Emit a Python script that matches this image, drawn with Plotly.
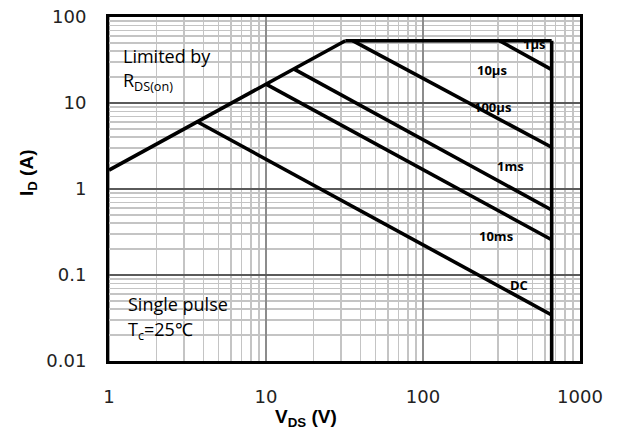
import numpy as np
import plotly.graph_objects as go

# ---- data ----
rds_v = [1, 32]
rds_i = [1.66, 53]
top_v = [32, 660]
top_i = [53, 53]
bv_v = [660, 660]
bv_i = [53, 0.01]
us10_v = [307, 660]
us10_i = [53, 24.4]
us100_v = [35.6, 660]
us100_i = [53, 3.06]
ms1_v = [15, 660]
ms1_i = [24.9, 0.57]
ms10_v = [10, 660]
ms10_i = [16.6, 0.257]
dc_v = [3.65, 660]
dc_i = [6.05, 0.0343]

label_text = ["1µs", "10µs", "100µs", "1ms", "10ms", "DC"]
label_v = [506, 277, 277, 361, 290, 406]
label_i = [48.7, 24.4, 8.87, 1.84, 0.286, 0.0756]

x_ticks = [1, 10, 100, 1000]
x_ticktext = ["1", "10", "100", "1000"]
y_ticks = [0.01, 0.1, 1, 10, 100]
y_ticktext = ["0.01", "0.1", "1", "10", "100"]

fig = go.Figure()
line_style = dict(color="black", width=3.6)
for xs, ys in [(rds_v, rds_i), (top_v, top_i), (bv_v, bv_i), (us10_v, us10_i),
               (us100_v, us100_i), (ms1_v, ms1_i), (ms10_v, ms10_i), (dc_v, dc_i)]:
    fig.add_trace(go.Scatter(x=xs, y=ys, mode="lines", line=line_style,
                             showlegend=False, hoverinfo="skip"))

# page geometry (body margin removed by post_script)
PX0, PY0 = 109, 16.5          # page position of plot area top-left
pw, ph = 471, 345
W, H = 618, 433
L, T = PX0, PY0
R, B = W - L - pw, H - T - ph

def px(x):
    return (x - PX0) / pw

def py(y):
    return 1 - (y - PY0) / ph

annotations = []
for t, v, i in zip(label_text, label_v, label_i):
    annotations.append(dict(x=np.log10(v), y=np.log10(i), xref="x", yref="y",
                            text="<b>%s</b>" % t, showarrow=False,
                            xanchor="center", yanchor="middle",
                            font=dict(family="Open Sans", size=13, color="black")))

txt_font = dict(family="Open Sans", size=18, color="black")
annotations += [
    dict(x=px(121), y=py(56), xref="paper", yref="paper", text="Limited by", showarrow=False,
         xanchor="left", yanchor="middle", font=txt_font),
    dict(x=px(121), y=py(81), xref="paper", yref="paper",
         text="R<sub>DS(on)</sub>", showarrow=False,
         xanchor="left", yanchor="middle", font=txt_font),
    dict(x=px(126), y=py(304), xref="paper", yref="paper", text="Single pulse", showarrow=False,
         xanchor="left", yanchor="middle", font=txt_font),
    dict(x=px(126), y=py(331), xref="paper", yref="paper",
         text="T<sub>c</sub>=25℃",
         showarrow=False, xanchor="left", yanchor="middle", font=txt_font),
    dict(x=px(306), y=py(419), xref="paper", yref="paper",
         text="<b>V<sub>DS</sub> (V)</b>", showarrow=False,
         xanchor="center", yanchor="middle",
         font=dict(family="Liberation Sans", size=19, color="black")),
    dict(x=px(28), y=py(173), xref="paper", yref="paper",
         text="<b>I<sub>D</sub> (A)</b>", showarrow=False, textangle=-90,
         xanchor="center", yanchor="middle",
         font=dict(family="Liberation Sans", size=19, color="black")),
]

shapes = [
    dict(type="rect", xref="paper", yref="paper",
         x0=px(127), x1=px(262), y0=py(343), y1=py(292),
         fillcolor="white", line=dict(width=0), layer="below"),
    dict(type="line", xref="x", yref="paper", x0=1, x1=1, y0=0, y1=1,
         line=dict(color="#444444", width=1), layer="below"),
]

fig.update_layout(
    width=W, height=H,
    margin=dict(l=L, r=R, t=T, b=B, autoexpand=False),
    paper_bgcolor="white", plot_bgcolor="white",
    annotations=annotations, shapes=shapes,
    xaxis=dict(type="log", range=[0, 3], tickvals=x_ticks, ticktext=x_ticktext,
               showgrid=True, gridcolor="#8c8c8c", gridwidth=1.5,
               minor=dict(dtick="D1", showgrid=True, gridcolor="#c4c4c4", gridwidth=1.5, ticks=""),
               showline=True, mirror=True, linecolor="black", linewidth=3,
               ticks="", ticklabelstandoff=17, zeroline=False, automargin=False,
               ticklabeloverflow="allow",
               tickfont=dict(family="DejaVu Sans", size=18, color="#222222")),
    yaxis=dict(type="log", range=[-2, 2], tickvals=y_ticks, ticktext=y_ticktext,
               showgrid=True, gridcolor="#5a5a5a", gridwidth=2,
               minor=dict(dtick="D1", showgrid=True, gridcolor="#c4c4c4", gridwidth=1.5, ticks=""),
               showline=True, mirror=True, linecolor="black", linewidth=3,
               ticks="", ticklabelstandoff=16, zeroline=False, automargin=False,
               ticklabeloverflow="allow",
               tickfont=dict(family="DejaVu Sans", size=18, color="#222222")),
)

fig.write_html("out.html",
               config={"displayModeBar": False, "staticPlot": True},
               post_script="document.body.style.margin='0';document.body.style.overflow='hidden';")
